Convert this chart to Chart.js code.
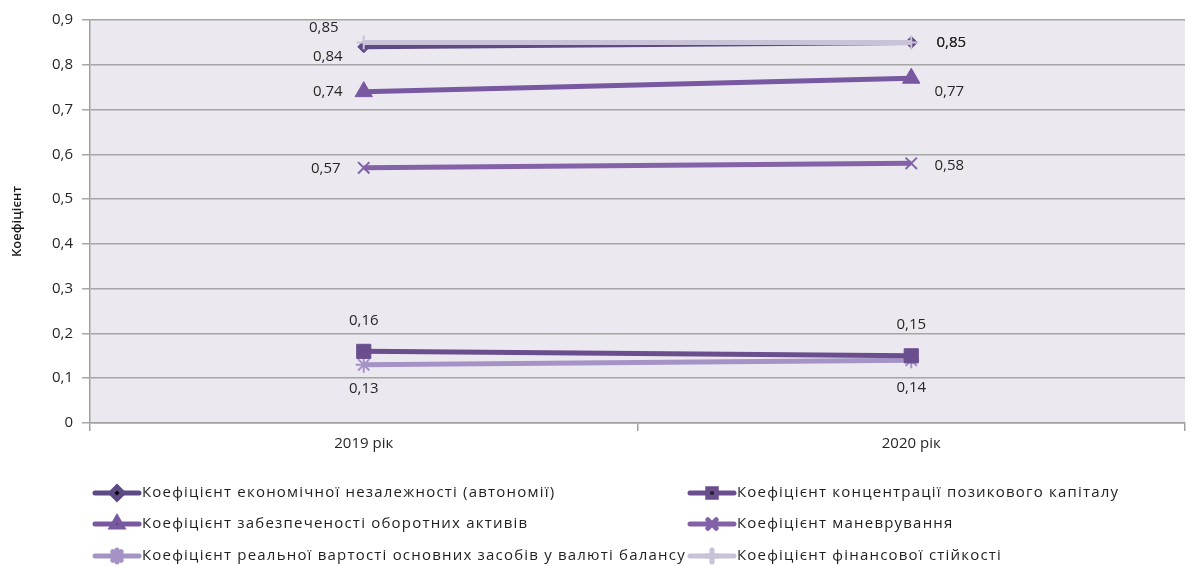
<!DOCTYPE html>
<html><head><meta charset="utf-8">
<script src="https://cdn.jsdelivr.net/npm/chart.js@4/dist/chart.umd.min.js"></script>
<style>html,body{margin:0;padding:0;background:#fff}#wrap{width:1192px;height:566px}</style>
</head><body><div id="wrap"><canvas id="c" width="1192" height="566"></canvas></div>
<script>
const categories = ['2019 рік', '2020 рік'];
const seriesNames = [
  'Коефіцієнт економічної незалежності (автономії)',
  'Коефіцієнт концентрації позикового капіталу',
  'Коефіцієнт забезпеченості оборотних активів',
  'Коефіцієнт маневрування',
  'Коефіцієнт реальної вартості основних засобів у валюті балансу',
  'Коефіцієнт фінансової стійкості'
];
const autonomy = [0.84, 0.85];
const borrowedConcentration = [0.16, 0.15];
const currentAssetsCoverage = [0.74, 0.77];
const maneuverability = [0.57, 0.58];
const realFixedAssets = [0.13, 0.14];
const financialStability = [0.85, 0.85];
const yTicks = [0, 0.1, 0.2, 0.3, 0.4, 0.5, 0.6, 0.7, 0.8, 0.9];

const colors = ['#5d4a85', '#6a4e8e', '#7858a0', '#8462a8', '#a593c6', '#c9c2d9'];
const markers = ['rectRot', 'rect', 'triangle', 'crossRot', 'star', 'cross'];
const radii = [6, 10, 10, 8, 8, 7];
const drawOrder = [1, 0, 0, 0, 0, -1];
const labelOffsets = [
  [[-36, 10], [40, 0]],
  [[0, -31], [0, -31]],
  [[-36, 0], [38, 14]],
  [[-38, 1], [38, 2]],
  [[0, 24], [0, 27]],
  [[-40, -15], [40, 0]]
];
const values = [autonomy, borrowedConcentration, currentAssetsCoverage, maneuverability, realFixedAssets, financialStability];
const FONT = "'Open Sans', 'Noto Sans', sans-serif";

const fmt = v => v === 0 ? '0' : v.toFixed(2).replace(/0$/, '').replace('.', ',');

const bgPlugin = {
  id: 'bg',
  beforeDraw(chart) {
    const a = chart.chartArea, ctx = chart.ctx;
    ctx.save();
    ctx.fillStyle = '#ebe9ef';
    ctx.fillRect(a.left, a.top, a.right - a.left, a.bottom - a.top);
    ctx.restore();
  }
};
const labelPlugin = {
  id: 'dlabels',
  afterDatasetsDraw(chart) {
    const ctx = chart.ctx;
    ctx.save();
    ctx.font = "15px " + FONT;
    ctx.fillStyle = '#262626';
    ctx.textAlign = 'center';
    ctx.textBaseline = 'middle';
    chart.data.datasets.forEach((ds, i) => {
      const meta = chart.getDatasetMeta(i);
      meta.data.forEach((pt, j) => {
        const o = labelOffsets[i][j];
        ctx.fillText(fmt(ds.data[j]), pt.x + o[0], pt.y + o[1]);
      });
    });
    ctx.restore();
  }
};
const legendPlugin = {
  id: 'customLegend',
  afterDraw(chart) {
    const ctx = chart.ctx;
    const colX = [95, 690], rowY = [493, 524, 556];
    ctx.save();
    chart.data.datasets.forEach((ds, i) => {
      const x = colX[i % 2], y = rowY[Math.floor(i / 2)];
      ctx.strokeStyle = ds.borderColor;
      ctx.lineWidth = 5;
      ctx.lineCap = 'round';
      ctx.beginPath(); ctx.moveTo(x, y); ctx.lineTo(x + 44, y); ctx.stroke();
      Chart.helpers.drawPoint(ctx, {pointStyle: ds.pointStyle, radius: Math.min(ds.pointRadius, 6), borderWidth: 1.5, rotation: 0}, x + 22, y);
      ctx.fillStyle = '#1f1f1f';
      ctx.font = "15px " + FONT;
      ctx.letterSpacing = '1.2px';
      ctx.textAlign = 'left';
      ctx.textBaseline = 'middle';
      ctx.fillText(ds.label, x + 47, y);
      ctx.letterSpacing = '0px';
    });
    ctx.restore();
  }
};

const datasets = values.map((v, i) => ({
  label: seriesNames[i],
  data: v,
  order: drawOrder[i],
  borderColor: colors[i],
  backgroundColor: colors[i],
  borderWidth: 5,
  pointStyle: markers[i],
  pointRadius: radii[i],
  pointBorderWidth: (markers[i] === 'crossRot' || markers[i] === 'star' || markers[i] === 'cross') ? 2 : 1,
  pointBackgroundColor: colors[i],
  pointBorderColor: colors[i],
  tension: 0
}));

new Chart(document.getElementById('c'), {
  type: 'line',
  data: { labels: categories, datasets },
  plugins: [bgPlugin, labelPlugin, legendPlugin],
  options: {
    responsive: false,
    animation: false,
    devicePixelRatio: 1,
    layout: { autoPadding: false, padding: { top: 20, right: 7, left: 9, bottom: 0 } },
    plugins: { legend: { display: false }, tooltip: { enabled: false } },
    scales: {
      x: {
        type: 'category',
        offset: true,
        grid: { offset: true, drawOnChartArea: false, color: '#a0a0a0', lineWidth: 1.5, tickLength: 8 },
        border: { color: '#a0a0a0', width: 1.5 },
        ticks: { color: '#262626', font: { family: FONT, size: 15 }, padding: 4 },
        afterFit(s) { s.height = 143; s.paddingLeft = 0; s.paddingRight = 0; }
      },
      y: {
        min: 0, max: 0.9,
        afterBuildTicks(s) { s.ticks = yTicks.map(v => ({ value: v })); },
        grid: { color: '#a6a6a6', lineWidth: 1.5, tickLength: 8 },
        border: { color: '#a0a0a0', width: 1.5 },
        ticks: { color: '#262626', font: { family: FONT, size: 15 }, padding: 9, callback: v => fmt(v) },
        title: { display: true, text: 'Коефіцієнт', color: '#1a1a1a', font: { family: FONT, size: 13, weight: '600' }, padding: 0 },
        afterFit(s) { s.width = 81; s.paddingTop = 0; s.paddingBottom = 0; }
      }
    }
  }
});
</script></body></html>
